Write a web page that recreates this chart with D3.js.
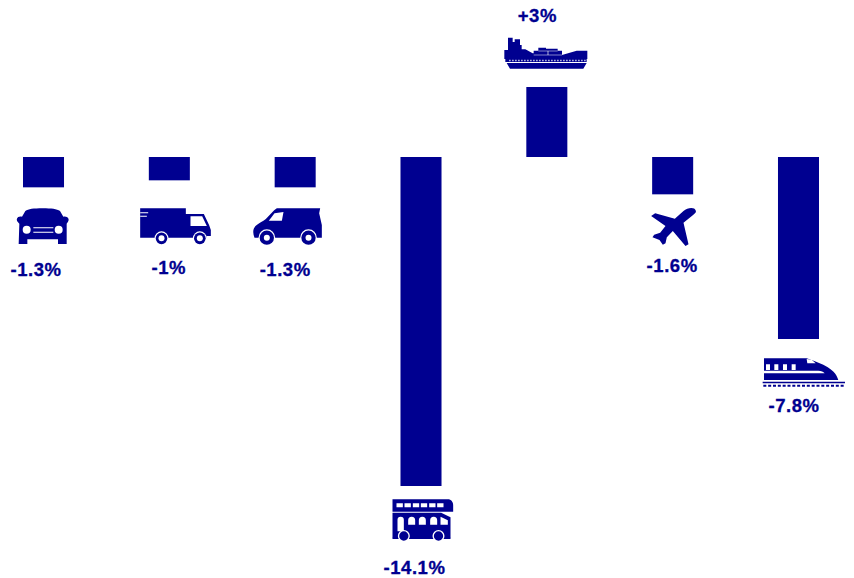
<!DOCTYPE html>
<html><head><meta charset="utf-8">
<script src="https://cdnjs.cloudflare.com/ajax/libs/d3/7.8.5/d3.min.js"></script>
<style>html,body{margin:0;padding:0;background:#fff}svg{display:block}
text{font-family:"Liberation Sans",Arial,sans-serif;font-weight:700;font-size:18.5px;letter-spacing:.55px;fill:#000090;stroke:#000090;stroke-width:.3px;text-anchor:middle}</style>
</head><body><div id="chart"></div>
<script>
const categories = ["Cars","Lorries","Vans","Buses","Shipping","Aviation","Rail"];
const values = [-1.3,-1,-1.3,-14.1,3,-1.6,-7.8];
const labels = ["-1.3%","-1%","-1.3%","-14.1%","+3%","-1.6%","-7.8%"];

const W=854,H=578,NAVY="#000090",WHITE="#fff";
const svg=d3.select("#chart").append("svg").attr("width",W).attr("height",H).style("overflow","hidden");
const x=d3.scaleBand().domain(categories).range([23,819]).paddingInner(.674).paddingOuter(0);
const y=d3.scaleLinear().domain([0,-14.1]).range([157,486]);
const cx=c=>x(c)+x.bandwidth()/2;

svg.selectAll("rect.bar").data(categories).join("rect").attr("class","bar")
  .attr("x",d=>x(d)).attr("width",x.bandwidth())
  .attr("y",(d,i)=>Math.min(y(0),y(values[i])))
  .attr("height",(d,i)=>Math.abs(y(values[i])-y(0)))
  .attr("fill",NAVY);

const circ=(a,b,r)=>`M${a-r},${b}a${r},${r} 0 1,0 ${2*r},0a${r},${r} 0 1,0 ${-2*r},0Z`;
const wheel=(a,b,r,h)=>[[WHITE,circ(a,b,r)],[NAVY,circ(a,b,r-3.5)],[WHITE,circ(a,b,h)]];
const blocks=(list)=>list.map(([a,b,w,h])=>`M${a},${b}h${w}v${h}h${-w}Z`).join("");
const arch=(a,w,top,bot)=>`M${a},${bot}V${top+w/2}a${w/2},${w/2} 0 0,1 ${w},0V${bot}Z`;

const icons=[
 {dx:-43.5,dy:-37.3,parts:[
  [NAVY,"M128,175C100,175 85,177 76,183L66,200C52,197 46,208 54,217L58,221L56,282H82V268H174V282H200V221L204,215C210,207 202,197 190,200L180,183C170,177 155,175 128,175Z"],
  [WHITE,circ(80,239,12)+circ(176,239,12)+blocks([[100,232,60,3],[100,245,60,3]])]]},
 {dx:-169.5,dy:-30.3,parts:[
  [NAVY,"M421,175H558V192H612L628,226L633,240V258H620V263H421Z"],
  [WHITE,blocks([[421,187,24,3],[421,197,20,3]])+"M572,199H607L621,228H572Z"],
  ...wheel(485,265,21,9),...wheel(600,265,21,9)]},
 {dx:-295,dy:-37.3,parts:[
  [NAVY,"M830,175H960L957,190L965,225V263H763C758,250 757,238 766,228C776,218 788,215 797,207L822,181Z"],
  [WHITE,"M823,190L850,186L845,212L806,212Z"],
  ...wheel(800,263,25,9),...wheel(925,263,25,9)]},
 {dx:-50.5,dy:-6,parts:[
  [NAVY,"M66,58H232C242,58 248,66 248,76V95H66Z"],
  [WHITE,blocks([[78,70,19,12],[102,70,19,12],[127,70,19,12],[151,70,19,12],[176,70,19,12],[200,70,19,12]])],
  [NAVY,"M66,98H212L240,112V172H66Z"],
  [WHITE,arch(81,19,110,154)+arch(113,21,110,134)+arch(145,21,110,134)+arch(179,21,110,134)+"M210,110L232,121V134H210Z"],
  [NAVY,blocks([[66,171,174,6]])],
  [WHITE,circ(100,168,18)+circ(204,168,18)],
  [NAVY,circ(100,168,14)+circ(204,168,14)]]},
 {dx:-57.5,dy:-87,parts:[
  [NAVY,"M45,150H56V113H70V126H76V118H92V135H97V148H108L130,160H133V152H147V143H170V146H205V152H218V165L262,152H294V177H45Z"],
  [WHITE,blocks([[147,152,58,2],[133,164,85,1.5],[175,152,2,12]])],
  [NAVY,blocks([[48,177,244,9]])+"M52,189H292L282,206H62Z"],
  [WHITE,d3.range(60,286,9).map(a=>`M${a},179h3.5v5h-3.5Z`).join("")]]},
 {dx:-42.5,dy:-4.3,parts:[
  [NAVY,"M197,62C193,50 172,53 160,63L134,86L75,70L63,78L106,108L90,128L72,134L67,142L88,150L98,164L106,160L110,142L128,123L166,168L175,163L160,98L186,77C194,71 199,67 197,62Z"]]},
 {dx:-48.5,dy:-9,parts:[
  [NAVY,"M42,85H170C205,98 255,112 265,150H42Z"],
  [WHITE,blocks([[48,103,12,17],[73,103,12,17],[99,103,12,17],[125,103,12,17]])+"M170,87L185,89L197,100H172Z"+"M42,122H205C214,122 220,125 224,130H42Z"],
  [NAVY,blocks([[38,155,247,5]])+d3.range(40,285,14.5).map(a=>`M${a},164h9v6h-9Z`).join("")]]}
];

const g=svg.selectAll("g.icon").data(categories).join("g").attr("class","icon")
  .attr("transform",(d,i)=>`translate(${cx(d)+icons[i].dx},${y(values[i])+icons[i].dy}) scale(${1/3})`);
g.selectAll("path").data((d,i)=>icons[i].parts).join("path")
  .attr("fill",p=>p[0]).attr("d",p=>p[1]);

const labelDx=[-7.5,-.5,-10,-6.5,-9.5,-.5,-4.5];
const labelDy=[89,94,89,88,-65,78,73];
svg.selectAll("text.val").data(labels).join("text").attr("class","val")
  .attr("x",(d,i)=>cx(categories[i])+labelDx[i])
  .attr("y",(d,i)=>y(values[i])+labelDy[i])
  .text(d=>d);
</script></body></html>
